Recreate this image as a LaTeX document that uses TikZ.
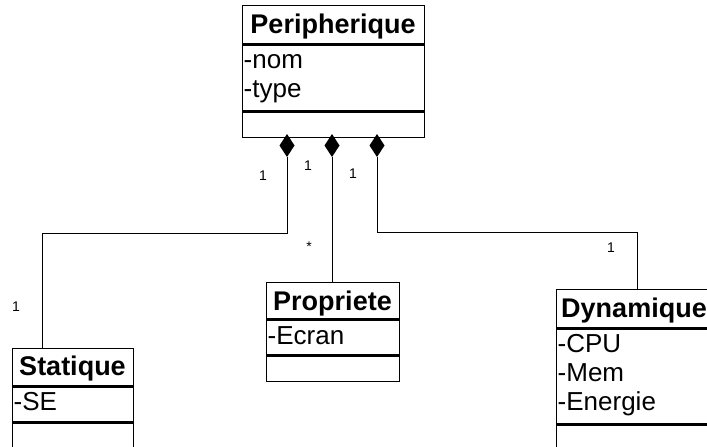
\documentclass[tikz,border=0pt]{standalone}
\usepackage{fontspec}
\setmainfont{Liberation Sans}
\begin{document}
\begin{tikzpicture}[x=1pt,y=-1pt,
  cls/.style={draw=black, line width=1.3pt, inner sep=0pt, anchor=north west, rectangle},
  ttl/.style={font=\fontsize{27}{30}\selectfont\bfseries, inner sep=0pt, anchor=base},
  att/.style={font=\fontsize{26}{29}\selectfont, inner sep=0pt, anchor=base west},
  mult/.style={font=\fontsize{14}{16}\selectfont, inner sep=0pt},
  conn/.style={line width=0.9pt, draw=black}]
\useasboundingbox (0,0) rectangle (707,447);
\clip (0,0) rectangle (707,447);
\fill[white] (0,0) rectangle (707,447);

% Peripherique
\node[cls, minimum width=182pt, minimum height=38pt] (perT) at (242,5) {};
\node[cls, minimum width=182pt, minimum height=66pt] (perA) at (perT.south west) {};
\node[cls, minimum width=182pt, minimum height=25pt] (perO) at (perA.south west) {};
\node[ttl] (perN) at (333,33) {Peripherique};
\node[att] (perA1) at (243.5,68) {-nom};
\node[att] (perA2) at (243.5,97) {-type};

% Propriete
\node[cls, minimum width=133pt, minimum height=36pt] (proT) at (266,282) {};
\node[cls, minimum width=133pt, minimum height=35pt] (proA) at (proT.south west) {};
\node[cls, minimum width=133pt, minimum height=25pt] (proO) at (proA.south west) {};
\node[ttl] (proN) at (332.5,310) {Propriete};
\node[att] (proA1) at (267.5,344) {-Ecran};

% Statique
\node[cls, minimum width=121pt, minimum height=37pt] (staT) at (12,348) {};
\node[cls, minimum width=121pt, minimum height=35pt] (staA) at (staT.south west) {};
\node[cls, minimum width=121pt, minimum height=24pt] (staO) at (staA.south west) {};
\node[ttl] (staN) at (72.5,375) {Statique};
\node[att] (staA1) at (13.5,410) {-SE};

% Dynamique
\node[cls, minimum width=156pt, minimum height=38pt] (dynT) at (556,289) {};
\node[cls, minimum width=156pt, minimum height=95pt] (dynA) at (dynT.south west) {};
\node[cls, minimum width=156pt, minimum height=25pt] (dynO) at (dynA.south west) {};
\node[ttl] (dynN) at (634,317) {Dynamique};
\node[att] (dynA1) at (557.5,352) {-CPU};
\node[att] (dynA2) at (557.5,381) {-Mem};
\node[att] (dynA3) at (557.5,410) {-Energie};

% diamonds
\fill (287,134) -- (294.5,145.5) -- (287,157) -- (279.5,145.5) -- cycle;
\fill (332,134) -- (339.5,145.5) -- (332,157) -- (324.5,145.5) -- cycle;
\fill (377,134) -- (384.5,145.5) -- (377,157) -- (369.5,145.5) -- cycle;
\coordinate (d1) at (287,157);
\coordinate (d2) at (332,157);
\coordinate (d3) at (377,157);
\coordinate (b1) at (42,233);
\coordinate (s1) at (42,348);
\coordinate (b3) at (637,232);
\coordinate (s3) at (637,289);
\coordinate (s2) at (332,282);

% connectors
\draw[conn] (d1) |- (b1) -- (s1);
\draw[conn] (d2) -- (s2);
\draw[conn] (d3) |- (b3) -- (s3);

% multiplicities
\node[mult] (m1) at (263,176) {1};
\node[mult] (m2) at (308,166) {1};
\node[mult] (m3) at (353,174) {1};
\node[mult] (m4) at (309,247) {*};
\node[mult] (m5) at (611,248) {1};
\node[mult] (m6) at (16,307) {1};
\end{tikzpicture}
\end{document}
